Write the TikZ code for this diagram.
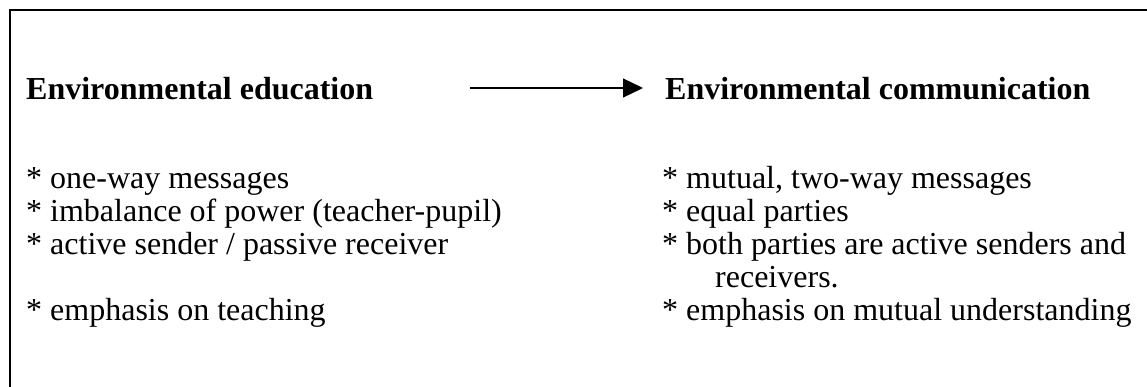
\documentclass[tikz,border=0pt]{standalone}
\usepackage{fontspec}
\setmainfont{Liberation Serif}
\usetikzlibrary{arrows.meta,calc}
\begin{document}
\begin{tikzpicture}[x=1pt,y=-1pt,
  txt/.style={anchor=base west,inner sep=0pt,font=\fontsize{32}{34}\selectfont},
  head/.style={txt,font=\fontsize{32}{34}\selectfont\bfseries},
  frame/.style={line width=1.5pt,draw=black},
  conn/.style={line width=1.3pt,-{Triangle[length=20pt,width=19pt]}}]
\useasboundingbox (0,0) rectangle (1147,386);
\clip (0,0) rectangle (1147,386);
\draw[frame] (10,10) rectangle (1200,420);
\node[head] (edu) at (26,99) {Environmental education};
\node[head] (comm) at (665,99) {Environmental communication};
\draw[conn] ($(edu.base east)+(97,-11)$) -- ($(comm.base west)+(-22,-11)$);
\node[txt] (l1) at (26,188) {* one-way messages};
\node[txt] (l2) at (26,221) {* imbalance of power (teacher-pupil)};
\node[txt] (l3) at (26,254) {* active sender / passive receiver};
\node[txt] (l4) at (26,320) {* emphasis on teaching};
\node[txt] (r1) at (662,188) {* mutual, two-way messages};
\node[txt] (r2) at (662,221) {* equal parties};
\node[txt] (r3) at (662,254) {* both parties are active senders and};
\node[txt] (r3b) at (715,287) {receivers.};
\node[txt] (r4) at (662,320) {* emphasis on mutual understanding};
\end{tikzpicture}
\end{document}
